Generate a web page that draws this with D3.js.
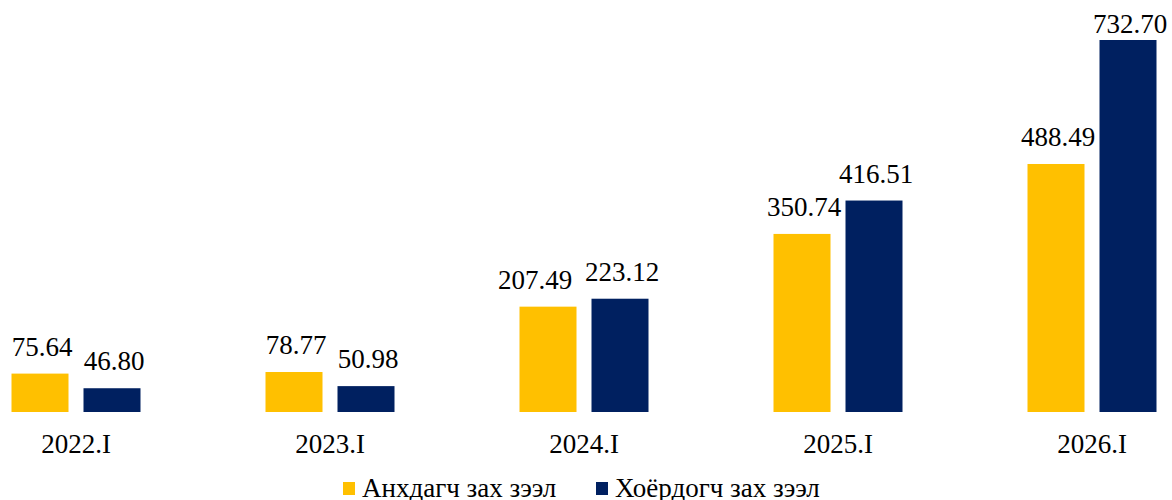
<!DOCTYPE html>
<html>
<head>
<meta charset="utf-8">
<script src="https://cdn.jsdelivr.net/npm/d3@7"></script>
<style>
  body { margin: 0; background: #fff; }
  text { font-family: "Liberation Serif", "Times New Roman", serif; fill: #000; }
</style>
</head>
<body>
<div id="chart-area"></div>
<script>
// data
var categories = ["2022.I", "2023.I", "2024.I", "2025.I", "2026.I"];
var seriesNames = ["Анхдагч зах зээл", "Хоёрдогч зах зээл"];
var primary = [75.64, 78.77, 207.49, 350.74, 488.49];
var secondary = [46.80, 50.98, 223.12, 416.51, 732.70];
var colors = ["#FFC000", "#002060"];

var width = 1172, height = 500;
var baseY = 412;

var svg = d3.select("#chart-area")
  .append("svg")
  .attr("width", width)
  .attr("height", height);

// group scale: step 254px, first centre at x=76
var x0 = d3.scaleBand()
  .domain(categories)
  .range([-51, 1219])
  .padding(0);

// two bars 57px wide, 15px apart
var x1 = d3.scaleBand()
  .domain(seriesNames)
  .range([-64.5, 64.5])
  .paddingInner(15 / 72);

var y = d3.scaleLinear()
  .domain([0, 732.70])
  .range([baseY, 40]);

var rows = categories.map(function(c, i) {
  return {cat: c, values: [
    {key: seriesNames[0], value: primary[i], idx: 0},
    {key: seriesNames[1], value: secondary[i], idx: 1}
  ]};
});

var groups = svg.selectAll("g.grp")
  .data(rows)
  .enter()
  .append("g")
  .attr("class", "grp")
  .attr("transform", function(d) {
    return "translate(" + (x0(d.cat) + x0.bandwidth() / 2) + ",0)";
  });

groups.selectAll("rect")
  .data(function(d) { return d.values; })
  .enter()
  .append("rect")
  .attr("x", function(d) { return x1(d.key); })
  .attr("y", function(d) { return y(d.value); })
  .attr("width", x1.bandwidth())
  .attr("height", function(d) { return baseY - y(d.value); })
  .style("fill", function(d) { return colors[d.idx]; });

// hand nudges for labels that were moved in the original
function labelDx(d, cat) {
  if (cat === "2024.I" && d.idx === 0) return -13;
  return 2;
}
function labelDy(d) {
  var top = y(d.value) - 18;
  return top < 33 ? 33 : top;
}

groups.each(function(g) {
  d3.select(this).selectAll("text.val")
    .data(g.values)
    .enter()
    .append("text")
    .attr("class", "val")
    .attr("text-anchor", "middle")
    .attr("x", function(d) { return x1(d.key) + x1.bandwidth() / 2 + labelDx(d, g.cat); })
    .attr("y", function(d) { return labelDy(d); })
    .style("font-size", "27px")
    .text(function(d) { return d.value.toFixed(2); });
});

// category axis
var axis = svg.append("g")
  .attr("transform", "translate(0," + baseY + ")")
  .call(d3.axisBottom(x0).tickSize(0).tickPadding(41));
axis.select(".domain").remove();
axis.selectAll("text")
  .style("font-family", '"Liberation Serif", "Times New Roman", serif')
  .style("font-size", "27px")
  .attr("dy", 0)
  .attr("fill", "#000");

// legend
var legendX = [343, 596];
var legend = svg.append("g");
seriesNames.forEach(function(name, i) {
  legend.append("rect")
    .attr("x", legendX[i])
    .attr("y", 482)
    .attr("width", 12)
    .attr("height", 13)
    .style("fill", colors[i]);
  legend.append("text")
    .attr("x", legendX[i] + 19)
    .attr("y", 497)
    .style("font-size", "27px")
    .text(name);
});
</script>
</body>
</html>
